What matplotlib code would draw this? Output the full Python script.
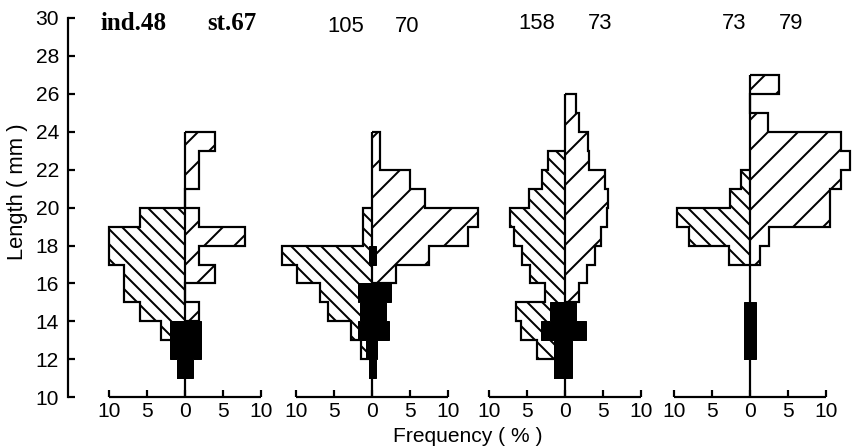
import numpy as np
import matplotlib.pyplot as plt

DPI = 90


def px(v):
    # pixel size -> points at the output dpi
    return v * 72 / DPI


# ==========================================
# DATA (1 mm length classes, % frequency)
# ==========================================
length_edges = np.arange(11, 28)          # class limits, 11..27 mm

headers = [("ind.48", "st.67"), ("105", "70"), ("158", "73"), ("73", "79")]

#               11   12   13   14   15   16    17    18    19    20    21    22    23   24   25   26
p1_left      = [0.0, 0.0, 3.1, 5.9, 8.0, 8.0, 10.0, 10.0, 5.9,  0.0,  0.0,  0.0,  0.0, 0.0, 0.0, 0.0]
p1_right     = [0.0, 0.0, 0.0, 1.9, 0.0, 3.9, 1.9,  7.9,  1.8,  0.0,  1.8,  1.8,  3.9, 0.0, 0.0, 0.0]
p1_blk_left  = [1.0, 2.0, 2.0, 0.0, 0.0, 0.0, 0.0,  0.0,  0.0,  0.0,  0.0,  0.0,  0.0, 0.0, 0.0, 0.0]
p1_blk_right = [1.0, 2.1, 2.1, 0.0, 0.0, 0.0, 0.0,  0.0,  0.0,  0.0,  0.0,  0.0,  0.0, 0.0, 0.0, 0.0]

p2_left      = [0.0, 1.4, 2.8, 5.8, 6.9, 9.9, 11.9, 1.2,  1.2,  0.0,  0.0,  0.0,  0.0, 0.0, 0.0, 0.0]
p2_right     = [0.0, 0.0, 0.0, 0.0, 0.0, 3.2, 7.5,  12.6, 13.9, 7.0,  5.0,  1.1,  1.1, 0.0, 0.0, 0.0]
p2_blk_left  = [0.4, 0.8, 1.9, 1.6, 1.9, 0.0, 0.45, 0.0,  0.0,  0.0,  0.0,  0.0,  0.0, 0.0, 0.0, 0.0]
p2_blk_right = [0.5, 0.7, 2.3, 1.8, 2.5, 0.0, 0.5,  0.0,  0.0,  0.0,  0.0,  0.0,  0.0, 0.0, 0.0, 0.0]

p3_left      = [0.0, 3.7, 5.8, 6.5, 2.6, 4.6, 5.7,  6.7,  7.2,  4.7,  3.0,  2.3,  0.0, 0.0, 0.0, 0.0]
p3_right     = [0.0, 0.0, 0.0, 0.0, 1.8, 2.9, 4.0,  4.7,  5.5,  5.7,  5.3,  3.1,  3.0, 1.8, 1.4, 0.0]
p3_blk_left  = [1.4, 1.5, 3.2, 2.0, 0.0, 0.0, 0.0,  0.0,  0.0,  0.0,  0.0,  0.0,  0.0, 0.0, 0.0, 0.0]
p3_blk_right = [0.9, 0.9, 2.8, 1.4, 0.0, 0.0, 0.0,  0.0,  0.0,  0.0,  0.0,  0.0,  0.0, 0.0, 0.0, 0.0]

p4_left      = [0.0, 0.0, 0.0, 0.0, 0.0, 0.0, 2.7,  8.0,  9.6,  2.6,  1.2,  0.0,  0.0, 0.0, 0.0, 0.0]
p4_right     = [0.0, 0.0, 0.0, 0.0, 0.0, 0.0, 1.3,  2.6,  10.5, 10.5, 12.0, 13.2, 12.0, 2.4, 0.0, 3.9]
p4_blk_left  = [0.0, 0.7, 0.7, 0.7, 0.0, 0.0, 0.0,  0.0,  0.0,  0.0,  0.0,  0.0,  0.0, 0.0, 0.0, 0.0]
p4_blk_right = [0.0, 0.8, 0.8, 0.8, 0.0, 0.0, 0.0,  0.0,  0.0,  0.0,  0.0,  0.0,  0.0, 0.0, 0.0, 0.0]

freq_ticks = [-10, -5, 0, 5, 10]
freq_ticklabels = ["10", "5", "0", "5", "10"]

panels = [
    (p1_left, p1_right, p1_blk_left, p1_blk_right),
    (p2_left, p2_right, p2_blk_left, p2_blk_right),
    (p3_left, p3_right, p3_blk_left, p3_blk_right),
    (p4_left, p4_right, p4_blk_left, p4_blk_right),
]

# ==========================================
# LAYOUT
# ==========================================
W, H = 852, 448
x_left, x_right = 68, 852                 # pixel span of the shared axes
y_bottom, y_top = 397.3, 17.9             # pixel rows of 10 mm and 30 mm
px_per_pct = 7.6
panel_centers = [15.4, 40.0, 65.4, 89.7]  # in % units from the y axis
header_dx = [(-6.8, 6.1), (-3.4, 4.6), (-3.7, 4.6), (-2.0, 5.5)]
header_y = [29.72, 29.55, 29.72, 29.72]
header_font = [("Liberation Serif", "bold"), ("Liberation Sans", "normal"),
               ("Liberation Sans", "normal"), ("Liberation Sans", "normal")]

lw = px(2.2)
plt.rcParams["hatch.linewidth"] = px(2.0)
plt.rcParams["font.family"] = ["Liberation Sans", "DejaVu Sans"]

fig = plt.figure(figsize=(W / DPI, H / DPI), dpi=DPI)
ax = fig.add_axes([x_left / W, (H - y_bottom) / H,
                   (x_right - x_left) / W, (y_bottom - y_top) / H])
ax.set_xlim(0, (x_right - x_left) / px_per_pct)
ax.set_ylim(10, 30)


def trimmed(vals):
    vals = np.asarray(vals, dtype=float)
    nz = np.nonzero(vals)[0]
    return vals[nz[0]:nz[-1] + 1], length_edges[nz[0]:nz[-1] + 2]


for c, (left, right, bl, br) in zip(panel_centers, panels):
    v, e = trimmed(left)
    ax.stairs(c - v, e, baseline=c, orientation="horizontal", fill=True,
              facecolor="white", edgecolor="black", hatch="\\\\", linewidth=lw, zorder=2)
    v, e = trimmed(right)
    ax.stairs(c + v, e, baseline=c, orientation="horizontal", fill=True,
              facecolor="white", edgecolor="black", hatch="/", linewidth=lw, zorder=2)

    # solid part, drawn across the centre line
    bl = np.asarray(bl, dtype=float)
    br = np.asarray(br, dtype=float)
    nz = np.nonzero(bl + br)[0]
    sl = slice(nz[0], nz[-1] + 1)
    ax.stairs(c + br[sl], length_edges[nz[0]:nz[-1] + 2], baseline=c - bl[sl],
              orientation="horizontal", fill=True, facecolor="black",
              edgecolor="black", linewidth=px(1), zorder=3)

    # centre line from the base to the top class
    tops = np.nonzero(np.asarray(left) + np.asarray(right) + bl + br)[0]
    ax.vlines(c, 10, length_edges[tops[-1] + 1], color="black", lw=lw, zorder=4)
    # own frequency axis
    ax.hlines(10, c + freq_ticks[0], c + freq_ticks[-1], color="black", lw=lw,
              clip_on=False, zorder=4)

# headers
for c, (a, b), (da, db), hy, (fam, wt) in zip(panel_centers, headers, header_dx,
                                              header_y, header_font):
    size = px(25) if wt == "bold" else px(22)
    ax.text(c + da, hy, a, ha="center", va="center", fontsize=size,
            family=fam, fontweight=wt)
    ax.text(c + db, hy, b, ha="center", va="center", fontsize=size,
            family=fam, fontweight=wt)

# axes cosmetics
for s in ("top", "right", "bottom"):
    ax.spines[s].set_visible(False)
ax.spines["left"].set_linewidth(lw)

ax.set_yticks(np.arange(10, 31, 2))
ax.tick_params(axis="y", direction="in", length=px(7), width=lw,
               labelsize=px(21), pad=px(9))

xt = [c + t for c in panel_centers for t in freq_ticks]
ax.set_xticks(xt)
ax.set_xticklabels(freq_ticklabels * len(panel_centers))
ax.tick_params(axis="x", direction="in", length=px(7), width=lw,
               labelsize=px(21), pad=px(5))

fig.text(18 / W, 1 - 192 / H, "Length ( mm )", rotation=90, ha="center",
         va="center", fontsize=px(22))
fig.text(468 / W, 1 - 436 / H, "Frequency ( % )", ha="center", va="center",
         fontsize=px(21))

fig.savefig("out.png", dpi=DPI)
